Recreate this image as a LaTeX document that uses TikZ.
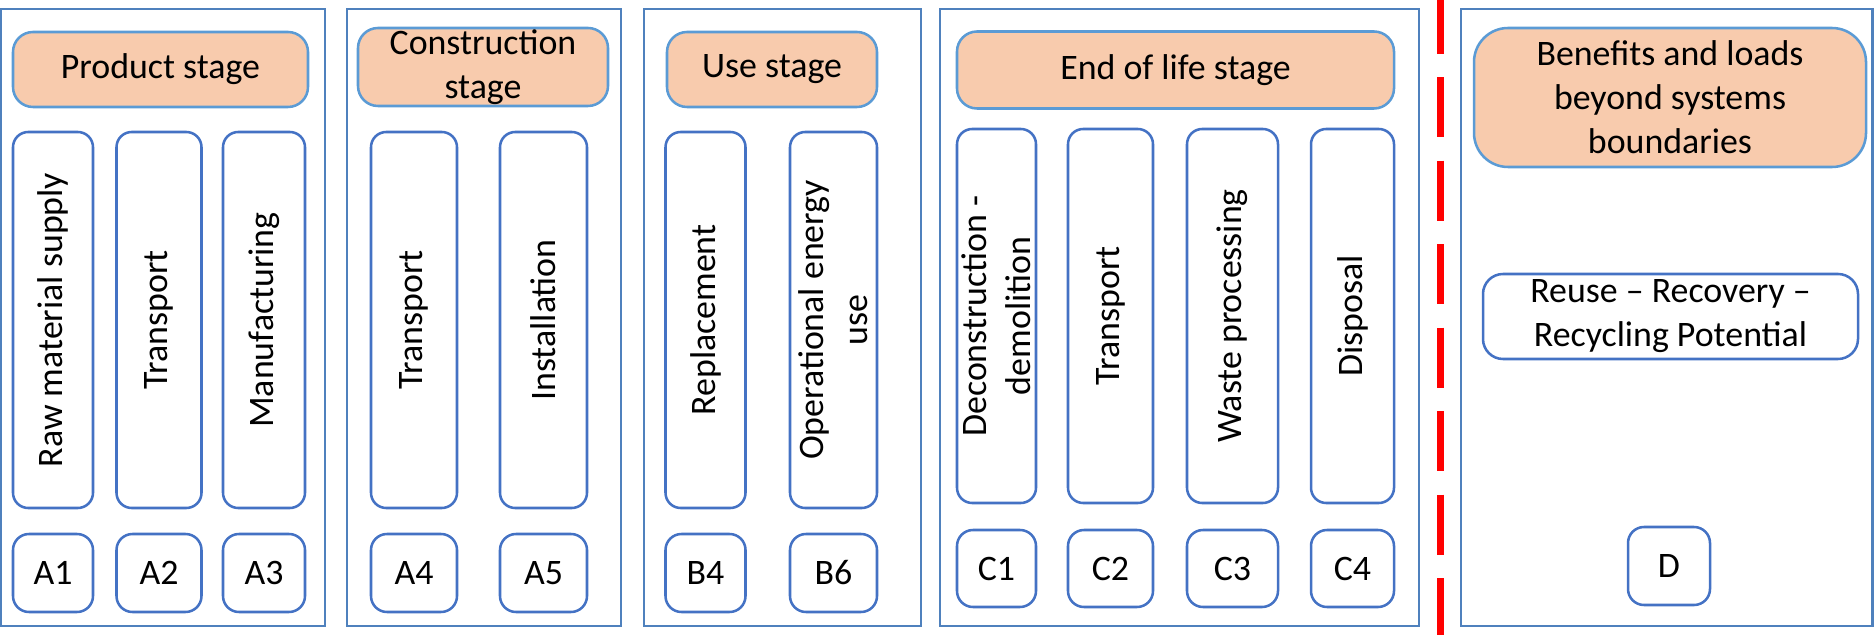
\documentclass[tikz,border=0pt]{standalone}
\usepackage{fontspec}
\setmainfont{Carlito}
\definecolor{frameblue}{HTML}{4F81BD}
\definecolor{edgeblue}{HTML}{4472C4}
\definecolor{headblue}{HTML}{5B9BD5}
\definecolor{peach}{HTML}{F8CBAD}

\begin{document}
\begin{tikzpicture}[x=0.025cm, y=-0.025cm,
    sized/.style 2 args={minimum width=#1*0.025cm, minimum height=#2*0.025cm, inner sep=0pt},
    stagebox/.style={draw=frameblue, line width=2.1pt},
    headbox/.style={draw=headblue, fill=peach, line width=1.8pt, rounded corners=0.5cm, align=center},
    procbox/.style={draw=edgeblue, line width=1.8pt, rounded corners=0.38cm, align=center},
    codebox/.style={draw=edgeblue, line width=1.8pt, rounded corners=0.4cm},
    font=\fontsize{25.5}{31.3}\selectfont]

  \useasboundingbox (0,0) rectangle (1874,635);

  % stage frames
  \foreach \id/\cx/\bw in {prodframe/163/324, consframe/484/274, useframe/782.5/277,
                           eolframe/1179.5/479, benframe/1666.5/411}{
    \node[stagebox, sized={\bw}{617}] (\id) at (\cx,317.5) {};
  }

  % stage headers
  \node[headbox, sized={295}{75}] (prodhead) at (160.5,69.5) {Product stage};
  \node[headbox, sized={250}{78}] (conshead) at (483,67) {Construction\\stage};
  \node[headbox, sized={210}{75}] (usehead) at (772,69.5) {Use stage};
  \node[headbox, sized={437}{77}] (eolhead) at (1175.5,70) {End of life stage};
  \node[headbox, sized={392}{139}, rounded corners=0.85cm] (benhead) at (1670,97.5)
    {Benefits and loads\\beyond systems\\boundaries};

  % modules A and B
  \foreach \id/\cx/\bw/\txt/\code in {raw/53/80/Raw material supply/A1,
      transA/159/85/Transport/A2, manuf/264/82/Manufacturing/A3,
      transB/414/86/Transport/A4, install/543.5/87/Installation/A5,
      replace/705.5/80/Replacement/B4, operen/833.5/87/{Operational energy\\use}/B6}{
    \node[procbox, rotate=90, sized={376}{\bw}] (\id) at (\cx,320) {\txt};
    \node[codebox, sized={\bw}{78}] (mod\code) at (\cx,573) {\code};
  }

  % modules C
  \foreach \id/\cx/\bw/\txt/\code in {decon/996.5/79/{Deconstruction -\\demolition}/C1,
      transC/1110.5/85/Transport/C2, waste/1232.5/91/Waste processing/C3,
      dispo/1352.5/83/Disposal/C4}{
    \node[procbox, rotate=90, sized={374}{\bw}] (\id) at (\cx,316) {\txt};
    \node[codebox, sized={\bw}{77}] (mod\code) at (\cx,568.5) {\code};
  }

  % module D
  \node[procbox, sized={375}{85}, rounded corners=0.5cm] (reuse) at (1670.5,316.5)
    {Reuse -- Recovery --\\Recycling Potential};
  \node[codebox, sized={82}{78}] (modD) at (1669,566) {D};

  % system boundary
  \coordinate (cuttop) at (1440,-6.5);
  \coordinate (cutbot) at (1440,640);
  \draw[red, line width=5pt, dash pattern=on 1.5cm off 0.5875cm] (cuttop) -- (cutbot);
\end{tikzpicture}
\end{document}
